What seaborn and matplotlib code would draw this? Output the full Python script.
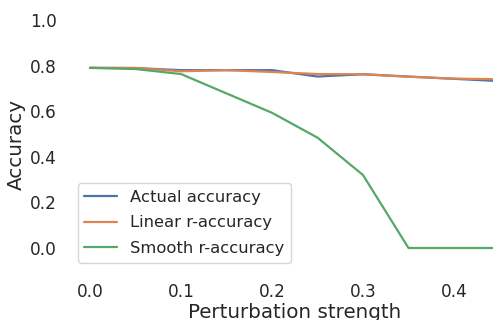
import matplotlib
matplotlib.use('Agg')
import matplotlib.pyplot as plt
import seaborn as sns
import pandas as pd

# perturbation strengths and accuracies
strength = [0.0, 0.05, 0.1, 0.15, 0.2, 0.25, 0.3, 0.35, 0.4, 0.45]
actual_acc = [0.79, 0.789, 0.78, 0.78, 0.78, 0.752, 0.762, 0.752, 0.742, 0.732]
linear_racc = [0.79, 0.79, 0.775, 0.78, 0.772, 0.763, 0.762, 0.751, 0.743, 0.74]
smooth_racc = [0.79, 0.785, 0.763, 0.678, 0.593, 0.484, 0.32, 0.0, 0.0, 0.0]
series_names = ['Actual accuracy', 'Linear r-accuracy', 'Smooth r-accuracy']

df = pd.DataFrame({'strength': strength,
                   series_names[0]: actual_acc,
                   series_names[1]: linear_racc,
                   series_names[2]: smooth_racc})
df = df.melt(id_vars='strength', var_name='series', value_name='accuracy')

sns.set_theme(style='white', palette='deep')
fig = plt.figure(figsize=(4.93, 3.2), dpi=100)
# axes spans past the right edge like the cropped original
ax = fig.add_axes([69.5 / 493, 49.2 / 320, 450.5 / 493, 273.6 / 320])

sns.lineplot(data=df, x='strength', y='accuracy', hue='series', ax=ax, linewidth=1.6)
sns.despine(left=True, bottom=True)

ax.set_ylim(-0.1, 1.1)
ax.set_yticks([0.0, 0.2, 0.4, 0.6, 0.8, 1.0])
ax.set_xticks([0.0, 0.1, 0.2, 0.3, 0.4])
ax.tick_params(length=0, pad=9, labelsize=12.2, colors='#262626')
ax.set_xlabel('Perturbation strength', fontsize=14.3, labelpad=1.5)
ax.set_ylabel('Accuracy', fontsize=14.3)
ax.yaxis.set_label_coords(-0.098, 0.46)
ax.legend(loc='lower left', fontsize=11.8, title=None, labelspacing=0.65)

fig.savefig('out.png', dpi=100)
